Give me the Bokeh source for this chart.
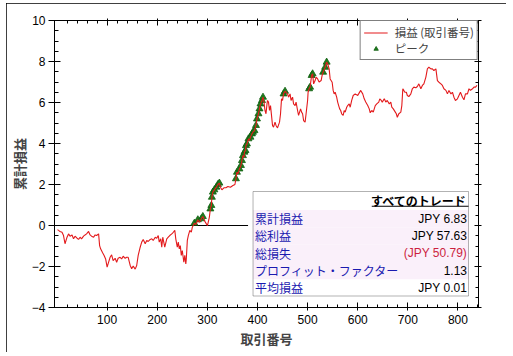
import numpy as np
from bokeh.plotting import figure
from bokeh.models import (Range1d, LinearAxis, FixedTicker, Span, BoxAnnotation,
                          Label, Legend, LegendItem, CustomLabelingPolicy)
from bokeh.embed import file_html
from bokeh.resources import INLINE

# ---------------- data ----------------
trade_no = [1, 3, 6, 10, 13, 16, 20, 23, 26, 30, 33, 36, 40, 43, 46, 49, 53, 56, 59, 63,
            66, 69, 73, 76, 79, 83, 85, 87, 91, 94, 97, 100, 103, 106, 109, 112, 116, 119,
            122, 126, 129, 132, 136, 139, 142, 146, 149, 152, 156, 159, 162, 166, 169, 172,
            176, 179, 182, 186, 189, 192, 196, 199, 202, 204, 207, 209, 211, 213, 215, 219,
            222, 225, 229, 232, 235, 237, 240, 242, 244, 246, 248, 250, 253, 255, 257, 258,
            260, 262, 265, 268, 270, 274, 277, 281, 284, 288, 291, 294, 298, 300, 301, 304,
            306, 308, 309, 311, 314, 318, 321, 324, 326, 329, 333, 337, 341, 346, 351, 355,
            357, 359, 361, 364, 367, 369, 371, 373, 374, 376, 377, 379, 382, 384, 386, 389,
            391, 394, 397, 399, 402, 404, 406, 409, 411, 413, 415, 417, 419, 420, 422, 424,
            426, 428, 430, 432, 435, 437, 440, 444, 446, 448, 450, 452, 455, 457, 460, 462,
            465, 467, 470, 472, 475, 477, 480, 482, 486, 488, 490, 492, 495, 497, 500, 501,
            503, 505, 508, 510, 512, 515, 517, 520, 523, 527, 529, 531, 535, 538, 540, 542,
            543, 545, 549, 551, 553, 555, 558, 560, 562, 564, 566, 568, 571, 573, 575, 578,
            580, 583, 585, 588, 591, 595, 600, 603, 606, 610, 613, 616, 620, 623, 625, 628,
            631, 635, 638, 642, 644, 647, 649, 653, 656, 659, 663, 666, 668, 671, 675, 677,
            679, 682, 686, 688, 690, 692, 694, 697, 699, 702, 706, 709, 712, 716, 719, 722,
            726, 729, 732, 736, 739, 742, 746, 749, 752, 756, 759, 762, 766, 769, 772, 776,
            779, 782, 786, 789, 792, 795, 799, 802, 805, 809, 812, 815, 819, 822, 825, 829,
            832, 835, 838]
cum_pnl = [-0.20, -0.24, -0.29, -0.33, -0.49, -0.89, -0.57, -0.41, -0.52, -0.46, -0.65, -0.52,
           -0.62, -0.68, -0.57, -0.65, -0.52, -0.46, -0.41, -0.29, -0.46, -0.52, -0.57, -0.46,
           -0.49, -0.41, -0.98, -1.14, -1.33, -1.46, -1.63, -2.03, -1.79, -1.55, -1.43, -1.71,
           -1.60, -1.79, -1.60, -1.55, -1.63, -1.50, -1.60, -1.55, -1.55, -1.95, -2.11, -1.98,
           -2.13, -1.95, -1.46, -1.06, -0.81, -0.68, -0.89, -0.73, -0.78, -0.68, -0.65, -0.73,
           -0.57, -0.62, -0.49, -0.81, -0.65, -1.06, -0.57, -0.81, -1.06, -0.65, -0.57, -0.49,
           -0.41, -0.33, -0.24, -0.65, -1.06, -0.81, -1.14, -0.98, -1.46, -1.22, -1.79, -1.46,
           -1.87, -1.63, -0.73, -0.49, -0.24, -0.33, -0.08, 0.11, 0.05, 0.28, 0.16, 0.33, 0.44,
           0.24, 0.08, 0.00, 0.08, 0.41, 0.81, 0.98, 1.38, 1.63, 1.74, 1.87, 2.00, 2.07, 1.87,
           1.74, 1.84, 1.84, 1.90, 1.87, 1.95, 2.00, 2.28, 2.60, 2.52, 2.76, 2.93, 3.17, 3.41,
           3.33, 3.58, 3.66, 3.90, 3.98, 4.23, 4.15, 4.31, 4.47, 4.55, 4.63, 4.88, 5.20, 5.45,
           5.69, 5.93, 6.10, 6.26, 6.02, 5.61, 5.45, 5.93, 6.10, 6.02, 5.61, 5.85, 5.37, 4.88,
           4.80, 5.04, 4.88, 4.76, 5.04, 5.45, 6.18, 6.10, 6.42, 6.55, 6.50, 6.42, 6.26, 6.42,
           6.10, 6.26, 5.93, 5.85, 6.02, 5.61, 5.37, 5.69, 5.53, 5.45, 5.12, 5.04, 5.45, 6.10,
           6.50, 6.67, 6.75, 7.32, 7.40, 6.91, 7.07, 7.24, 7.15, 7.00, 7.07, 7.32, 7.48, 7.72,
           7.97, 7.89, 7.72, 7.64, 7.15, 6.99, 6.59, 6.42, 6.50, 6.26, 6.02, 5.85, 5.69, 5.61,
           5.45, 5.37, 5.61, 5.53, 5.77, 5.85, 5.93, 5.77, 6.10, 6.34, 6.42, 6.34, 6.47, 6.59,
           6.42, 6.18, 6.02, 5.85, 5.69, 5.50, 5.61, 5.53, 5.85, 5.93, 6.02, 6.18, 6.10, 6.02,
           6.18, 6.02, 6.10, 5.93, 6.02, 5.77, 5.69, 5.53, 5.45, 5.28, 5.45, 5.53, 5.85, 6.67,
           6.59, 6.50, 6.50, 6.34, 6.29, 6.42, 6.67, 6.75, 6.72, 6.78, 6.91, 6.67, 6.83, 6.91,
           7.24, 7.64, 7.72, 7.64, 7.64, 7.56, 7.64, 7.07, 6.99, 6.91, 6.83, 6.67, 6.59, 6.42,
           6.59, 6.42, 6.50, 6.26, 6.10, 6.18, 6.34, 6.50, 6.26, 6.13, 6.42, 6.42, 6.67, 6.59,
           6.67, 6.75, 6.75, 6.83]

x_major_ticks = [100, 200, 300, 400, 500, 600, 700, 800]
y_major_ticks = [-4, -2, 0, 2, 4, 6, 8, 10]

series_label = "損益 (取引番号)"
peak_label = "ピーク"
x_title = "取引番号"
y_title = "累計損益"

table_header = "すべてのトレード"
table_labels = ["累計損益", "総利益", "総損失", "プロフィット・ファクター", "平均損益"]
table_values = ["JPY 6.83", "JPY 57.63", "(JPY 50.79)", "1.13", "JPY 0.01"]
table_value_colors = ["black", "black", "#CC1F3F", "black", "black"]

# peaks: new equity highs above the starting level
xs = np.array(trade_no, dtype=float)
ys = np.array(cum_pnl, dtype=float)
run_max = 0.0
peak_x, peak_y = [], []
for a, b in zip(xs, ys):
    if b > run_max:
        run_max = b
        peak_x.append(a)
        peak_y.append(b)

# ---------------- figure ----------------
# page geometry (pixels in the 513x356 window)
OX, OY = 6, 3            # top-left of the outer bordered box
OW, OH = 500, 349        # size of the outer bordered box
FL, FR, FT, FB = 53, 478, 20, 307   # plot frame in page pixels
X0, X1, Y0, Y1 = -5, 841, -4, 10

def dx(px):
    return X0 + (px - FL) / (FR - FL) * (X1 - X0)

def dy(py):
    return Y1 - (py - FT) / (FB - FT) * (Y1 - Y0)

p = figure(width=OW, height=OH, x_range=Range1d(X0, X1), y_range=Range1d(Y0, Y1),
           output_backend="svg", toolbar_location=None,
           min_border_left=FL - OX, min_border_right=OX + OW - FR,
           min_border_top=FT - OY, min_border_bottom=OY + OH - FB,
           background_fill_color="white", border_fill_color="white",
           margin=(OY, 0, 0, OX))
p.styles = {"outline": "1px solid black", "outline-offset": "-1px"}
p.xgrid.visible = False
p.ygrid.visible = False
p.outline_line_color = None

x_minor = [t for t in range(20, 841, 20) if t not in x_major_ticks]
y_minor = [v / 2 for v in range(-8, 21) if (v / 2) not in y_major_ticks]
xt = FixedTicker(ticks=x_major_ticks, minor_ticks=x_minor)
yt = FixedTicker(ticks=y_major_ticks, minor_ticks=y_minor)

NUM_FONT = "Liberation Sans"
JP_FONT = "Noto Sans CJK JP"

def style_axis(ax, tin, tout, mtin, show_labels):
    ax.axis_line_color = "black"
    ax.major_tick_line_color = "black"
    ax.minor_tick_line_color = "black"
    ax.major_tick_in = tin
    ax.major_tick_out = tout
    ax.minor_tick_in = mtin
    ax.minor_tick_out = 0
    if show_labels:
        ax.major_label_text_font = NUM_FONT
        ax.major_label_text_font_size = "12px"
        ax.major_label_text_color = "black"
    else:
        ax.major_label_policy = CustomLabelingPolicy(code="return new Set()")
        ax.major_label_standoff = 0

xa = p.xaxis[0]
xa.ticker = xt
style_axis(xa, 5, 3, 3, True)
xa.major_label_standoff = 4
xa.axis_label = x_title
xa.axis_label_text_font = JP_FONT
xa.axis_label_text_font_style = "bold"
xa.axis_label_text_font_size = "13px"
xa.axis_label_standoff = 2

ya = p.yaxis[0]
ya.ticker = yt
style_axis(ya, 6, 6, 4, True)
ya.major_label_standoff = 3
ya.axis_label = y_title
ya.axis_label_text_font = JP_FONT
ya.axis_label_text_font_style = "bold"
ya.axis_label_text_font_size = "13px"
ya.axis_label_standoff = 0

top_ax = LinearAxis(ticker=xt)
style_axis(top_ax, 5, 2, 3, False)
p.add_layout(top_ax, "above")
right_ax = LinearAxis(ticker=yt)
style_axis(right_ax, 4, 3, 3, False)
p.add_layout(right_ax, "right")

# zero line and white cover behind the table
p.add_layout(Span(location=0, dimension="width", line_color="black", line_width=1,
                  level="underlay"))
p.add_layout(BoxAnnotation(left=dx(247), right=X1, top=dy(190), bottom=dy(297),
                           fill_color="white", fill_alpha=1, line_alpha=0,
                           level="underlay"))

# data
peak_r = p.scatter(peak_x, peak_y, marker="triangle", size=7,
                   fill_color="#1E7B1E", line_color="#0E5E0E", line_width=0.8)
line_r = p.line(trade_no, cum_pnl, line_color="#E31A1C", line_width=1.1)

legend = Legend(items=[LegendItem(label=series_label, renderers=[line_r]),
                       LegendItem(label=peak_label, renderers=[peak_r])],
                location="top_right", margin=0, padding=3, spacing=0,
                label_standoff=7, glyph_width=24, glyph_height=11, label_height=11,
                label_text_font=JP_FONT, label_text_font_size="11.5px",
                border_line_color="black", border_line_width=1,
                background_fill_color="white", background_fill_alpha=1)
p.add_layout(legend)

# ---------------- summary table ----------------
TL, TR, TT, TB = 252, 468, 191, 295.5
row_top = 209.5
row_h = 17.3
for i, (lab, val, col) in enumerate(zip(table_labels, table_values, table_value_colors)):
    top_px = row_top + i * row_h
    bot_px = min(top_px + row_h, TB)
    if i < 4:
        p.add_layout(BoxAnnotation(left=dx(TL), right=dx(TR), top=dy(top_px),
                                   bottom=dy(bot_px), fill_color="#FAF0FA",
                                   fill_alpha=1, line_alpha=0))
    cy = dy((top_px + bot_px) / 2)
    p.add_layout(Label(x=dx(254), y=cy, text=lab, text_align="left",
                       text_baseline="middle", text_font=JP_FONT,
                       text_font_size="12px", text_color="#1A1AB0"))
    p.add_layout(Label(x=dx(466.5), y=cy, text=val, text_align="right",
                       text_baseline="middle", text_font=NUM_FONT,
                       text_font_size="12px", text_color=col))

p.add_layout(BoxAnnotation(left=dx(TL), right=dx(TR), top=dy(TT), bottom=dy(TB),
                           fill_alpha=0, line_color="black", line_width=1))
p.add_layout(BoxAnnotation(left=dx(371), right=dx(TR), top=dy(205.2), bottom=dy(206.2),
                           fill_color="black", fill_alpha=1, line_alpha=0))
p.add_layout(Label(x=dx(466.5), y=dy(199.5), text=table_header, text_align="right",
                   text_baseline="middle", text_font=JP_FONT, text_font_size="12px",
                   text_font_style="bold", text_color="black"))

open("out.html", "w").write(file_html(p, INLINE))
